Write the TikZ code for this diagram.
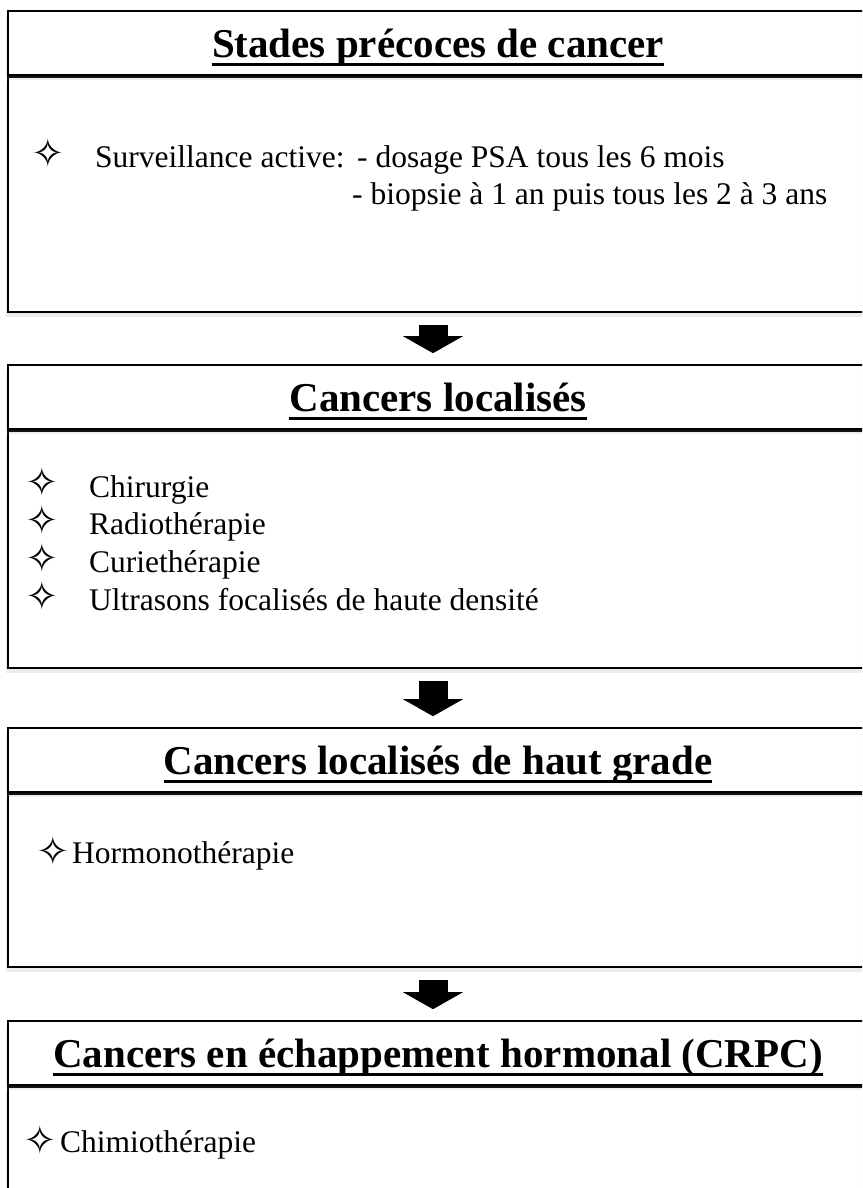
\documentclass[tikz,border=0pt]{standalone}
\usepackage{fontspec}
\setmainfont{Liberation Serif}
\newfontfamily\symfont{DejaVu Sans}
\usetikzlibrary{shapes,arrows.meta,positioning,shadows,calc}

% titre souligne, trait plus epais
\newcommand\souligne[1]{\setbox0\hbox{#1}\rlap{\rule[-8.5pt]{\wd0}{2.4pt}}\box0}

\begin{document}
\begin{tikzpicture}[x=1pt, y=-1pt,
  ombre/.style={drop shadow={shadow xshift=-2pt, shadow yshift=-5pt, opacity=0.15}},
  corps/.style={rectangle, draw, line width=1.8pt, fill=white, minimum width=860pt, anchor=north, ombre},
  entete/.style={rectangle, draw, line width=1.8pt, fill=white, minimum width=860pt, minimum height=64pt, inner sep=0pt, text height=30pt, text depth=2pt, font=\fontsize{41}{48}\selectfont\bfseries, ombre},
  texte/.style={anchor=base west, inner sep=0pt, font=\fontsize{31.5}{37}\selectfont},
  puce/.style={inner sep=0pt, text height=25pt, text depth=0pt, font=\symfont\fontsize{40}{40}\selectfont},
  fleche/.style={line width=29pt, -{Triangle[length=17pt, width=60pt, line width=0pt]}, shorten <=12pt, shorten >=11pt}]
\useasboundingbox (0,0) rectangle (862,1188);
\clip (0,0) rectangle (862,1188);

% stades precoces
\node[corps, minimum height=235pt] (b1body) at (438,76) {};
\node[entete, above=0pt of b1body] (b1head) {\souligne{Stades précoces de cancer}};
\node[puce] (p1) at (48,155) {✧};
\node[texte] (sa) at (95,167) {Surveillance active:};
\node[texte] (psa) at (357,167) {- dosage PSA tous les 6 mois};
\node[texte] (bio) at (352,204) {- biopsie à 1 an puis tous les 2 à 3 ans};

% cancers localises
\node[corps, minimum height=237pt] (b2body) at (438,430) {};
\node[entete, above=0pt of b2body] (b2head) {\souligne{Cancers localisés}};
\node[puce] (p2a) at (42,484) {✧};
\node[puce] (p2b) at (42,522) {✧};
\node[puce] (p2c) at (42,560) {✧};
\node[puce] (p2d) at (42,598) {✧};
\node[texte] (chir) at (89,497) {Chirurgie};
\node[texte] (radio) at (89,534) {Radiothérapie};
\node[texte] (curie) at (89,572) {Curiethérapie};
\node[texte] (ultra) at (89,610) {Ultrasons focalisés de haute densité};

% haut grade
\node[corps, minimum height=173pt] (b3body) at (438,793) {};
\node[entete, above=0pt of b3body] (b3head) {\souligne{Cancers localisés de haut grade}};
\node[puce] (p3) at (53,853) {✧};
\node[texte] (hormo) at (72,863) {Hormonothérapie};

% CRPC
\node[corps, minimum height=144pt] (b4body) at (438,1086) {};
\node[entete, above=0pt of b4body] (b4head) {\souligne{Cancers en échappement hormonal (CRPC)}};
\node[puce] (p4) at (40,1142) {✧};
\node[texte] (chimio) at (60,1152) {Chimiothérapie};

\draw[fleche] ([xshift=-5pt]b1body.south) -- ([xshift=-5pt]b2head.north);
\draw[fleche] ([xshift=-5pt]b2body.south) -- ([xshift=-5pt]b3head.north);
\draw[fleche] ([xshift=-5pt]b3body.south) -- ([xshift=-5pt]b4head.north);
\end{tikzpicture}
\end{document}
